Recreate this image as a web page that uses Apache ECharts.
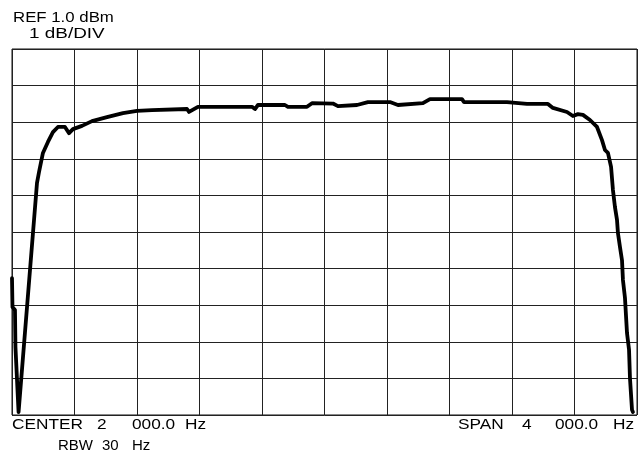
<!DOCTYPE html>
<html>
<head>
<meta charset="utf-8">
<script src="https://cdn.jsdelivr.net/npm/echarts@6/dist/echarts.min.js"></script>
<style>
html,body{margin:0;padding:0;background:#fff;}
#c{width:641px;height:456px;}
</style>
</head>
<body>
<div id="c"></div>
<script>
// Frequency (Hz) of trace points, span 0..4000 Hz
var freqHz = [0, 3, 19, 22, 32, 42, 160, 173, 198, 230, 262, 294, 339, 365, 390, 448, 512, 608, 710, 800, 896,
  1120, 1133, 1190, 1536, 1555, 1574, 1747, 1766, 1888, 1920, 2054, 2086, 2208, 2278, 2419, 2470, 2630, 2675,
  2880, 2893, 3168, 3296, 3430, 3462, 3552, 3590, 3622, 3654, 3699, 3744, 3776, 3795, 3814, 3834, 3846, 3859,
  3872, 3878, 3891, 3904, 3910, 3923, 3936, 3949, 3955, 3968, 3974];
// Level (dBm) at each point
var levelDbm = [-5.26, -6.05, -6.13, -7.14, -7.17, -8.92, -2.66, -2.36, -1.84, -1.54, -1.27, -1.13, -1.13, -1.30, -1.19, -1.10, -0.97, -0.86, -0.75, -0.69, -0.67,
  -0.64, -0.72, -0.58, -0.58, -0.64, -0.53, -0.53, -0.58, -0.58, -0.48, -0.49, -0.56, -0.53, -0.45, -0.45, -0.53, -0.48, -0.37,
  -0.37, -0.45, -0.45, -0.50, -0.50, -0.61, -0.72, -0.83, -0.78, -0.80, -0.94, -1.13, -1.49, -1.76, -1.84, -2.22, -2.85, -3.32,
  -3.67, -4.03, -4.41, -4.77, -5.31, -5.80, -6.76, -7.22, -7.99, -8.86, -8.92];
var xRange = [0, 4000];      // CENTER 2000 Hz, SPAN 4000 Hz
var xDiv = 400;
var yRange = [-9, 1];        // REF 1.0 dBm, 1 dB/DIV
var yDiv = 1;
var headerTexts = ['REF 1.0 dBm', '1 dB/DIV'];
var centerWords = ['CENTER', '2', '000.0', 'Hz'];
var rbwWords = ['RBW', '30', 'Hz'];
var spanWords = ['SPAN', '4', '000.0', 'Hz'];

var pts = freqHz.map(function (f, i) { return [f, levelDbm[i]]; });
var font = '"Liberation Sans", Arial, sans-serif';
function txt(s, x, y, size, sx) {
  return {
    type: 'text', x: x, y: y, scaleX: sx, scaleY: 1,
    style: { text: s, fill: '#000', font: size + 'px ' + font, textAlign: 'left', textVerticalAlign: 'top' }
  };
}
var g = [
  txt(headerTexts[0], 13, 11, 14, 1.2),
  txt(headerTexts[1], 29, 27, 14, 1.35)
];
var cx = [12, 97, 132, 185];
centerWords.forEach(function (w, i) { g.push(txt(w, cx[i], 417, 15, 1.15)); });
var rx = [58, 102, 132];
rbwWords.forEach(function (w, i) { g.push(txt(w, rx[i], 438, 15, 1.0)); });
var sx = [458, 522, 555, 613];
spanWords.forEach(function (w, i) { g.push(txt(w, sx[i], 417, 15, 1.15)); });

var chart = echarts.init(document.getElementById('c'), null, { renderer: 'canvas' });
chart.setOption({
  backgroundColor: '#fff',
  animation: false,
  grid: { left: 12, right: 4, top: 49, bottom: 41, show: true, borderColor: '#111', borderWidth: 1 },
  xAxis: {
    type: 'value', min: xRange[0], max: xRange[1], interval: xDiv,
    axisLine: { show: false }, axisTick: { show: false }, axisLabel: { show: false },
    splitLine: { show: true, lineStyle: { color: '#222', width: 1 } }
  },
  yAxis: {
    type: 'value', min: yRange[0], max: yRange[1], interval: yDiv,
    axisLine: { show: false }, axisTick: { show: false }, axisLabel: { show: false },
    splitLine: { show: true, lineStyle: { color: '#222', width: 1 } }
  },
  series: [{
    type: 'line', data: pts, showSymbol: false, smooth: false,
    lineStyle: { color: '#000', width: 3.8, join: 'round', cap: 'round' },
    clip: false
  }],
  graphic: g
});
</script>
</body>
</html>
